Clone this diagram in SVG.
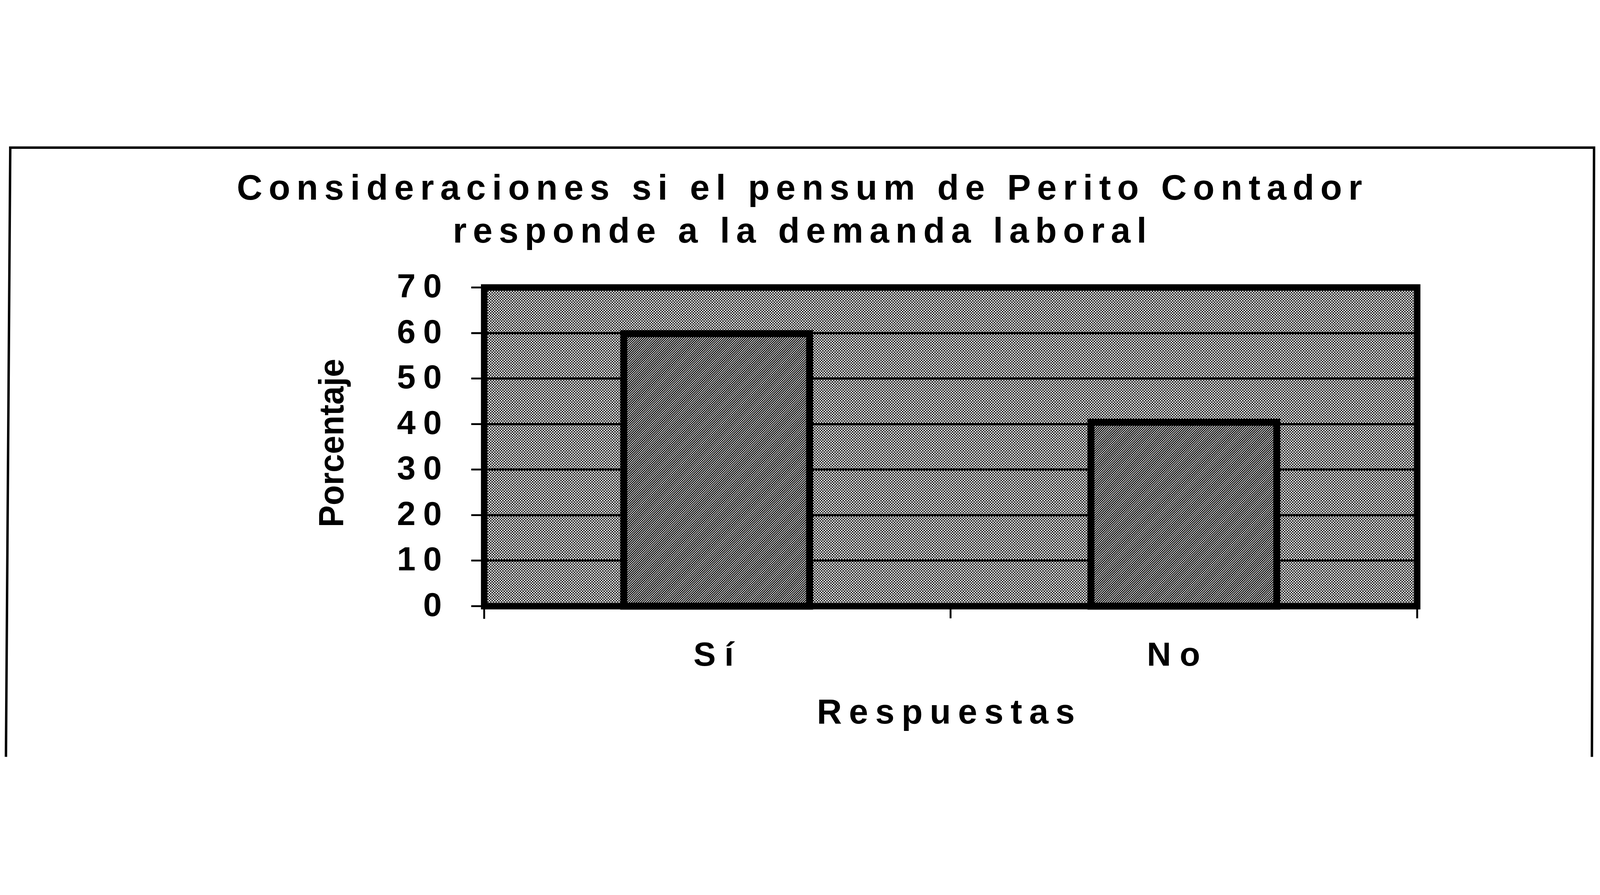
<svg xmlns="http://www.w3.org/2000/svg" width="5925" height="2291" viewBox="0 0 5925 2291" style="width:100vw;height:100vh">
<style>
text{font-family:"Liberation Sans",Arial,sans-serif;font-weight:bold;fill:#000}
.title{font-size:131px}
.tick{font-size:124px;letter-spacing:28px}
.cat{font-size:124px;letter-spacing:32px}
.axt{font-size:128px}
.grid{stroke:#000;stroke-width:8;fill:none}
.tk{stroke:#000;stroke-width:7;fill:none}
.bar{fill:url(#barPat);stroke:#000;stroke-width:26}
</style>
<defs>
<pattern id="bgPat" patternUnits="userSpaceOnUse" width="10" height="10">
<rect width="10" height="10" fill="#fff"/>
<circle cx="2.5" cy="2.5" r="2.8" fill="#000"/>
<circle cx="7.5" cy="7.5" r="2.8" fill="#000"/>
</pattern>
<pattern id="barPat" patternUnits="userSpaceOnUse" width="6" height="6" patternTransform="rotate(45)">
<rect width="6" height="6" fill="#fff"/>
<rect width="3.6" height="6" fill="#000"/>
</pattern>
</defs>
<rect width="5925" height="2291" fill="#fff"/>
<g id="frame">
<path d="M22 2291 L38 35 L5903 35 L5895 2291" fill="none" stroke="#000" stroke-width="9"/>
</g>
<g id="title">
<text class="title" x="877" y="228" textLength="4167" lengthAdjust="spacing">Consideraciones si el pensum de Perito Contador</text>
<text class="title" x="1677" y="387" textLength="2569" lengthAdjust="spacing">responde a la demanda laboral</text>
</g>
<g id="plot-area">
<rect x="1793" y="553" width="3455" height="1180" fill="url(#bgPat)"/>
</g>
<g id="gridlines">
<line class="grid" x1="1793" y1="722" x2="5248" y2="722"/>
<line class="grid" x1="1793" y1="890" x2="5248" y2="890"/>
<line class="grid" x1="1793" y1="1059" x2="5248" y2="1059"/>
<line class="grid" x1="1793" y1="1227" x2="5248" y2="1227"/>
<line class="grid" x1="1793" y1="1396" x2="5248" y2="1396"/>
<line class="grid" x1="1793" y1="1564" x2="5248" y2="1564"/>
</g>
<g id="bar-si">
<rect class="bar" x="2310" y="724" width="688" height="1009"/>
</g>
<g id="bar-no">
<rect class="bar" x="4040" y="1052" width="688" height="681"/>
</g>
<g id="plot-frame">
<rect x="1793" y="553" width="3455" height="1180" fill="none" stroke="#000" stroke-width="24"/>
</g>
<g id="y-axis">
<line class="tk" x1="1745" y1="553" x2="1793" y2="553"/>
<line class="tk" x1="1745" y1="722" x2="1793" y2="722"/>
<line class="tk" x1="1745" y1="890" x2="1793" y2="890"/>
<line class="tk" x1="1745" y1="1059" x2="1793" y2="1059"/>
<line class="tk" x1="1745" y1="1227" x2="1793" y2="1227"/>
<line class="tk" x1="1745" y1="1396" x2="1793" y2="1396"/>
<line class="tk" x1="1745" y1="1564" x2="1793" y2="1564"/>
<line class="tk" x1="1745" y1="1733" x2="1793" y2="1733"/>
<text class="tick" x="1470" y="590">70</text>
<text class="tick" x="1470" y="759">60</text>
<text class="tick" x="1470" y="927">50</text>
<text class="tick" x="1470" y="1096">40</text>
<text class="tick" x="1470" y="1264">30</text>
<text class="tick" x="1470" y="1433">20</text>
<text class="tick" x="1470" y="1601">10</text>
<text class="tick" x="1567" y="1770">0</text>
<text class="axt" transform="translate(1272,1441) rotate(-90)" textLength="624" lengthAdjust="spacingAndGlyphs">Porcentaje</text>
</g>
<g id="x-axis">
<line class="tk" x1="1793" y1="1733" x2="1793" y2="1780"/>
<line class="tk" x1="3520" y1="1733" x2="3520" y2="1778"/>
<line class="tk" x1="5248" y1="1733" x2="5248" y2="1778"/>
<text class="cat" x="2568" y="1953">Sí</text>
<text class="cat" x="4247" y="1953">No</text>
<text class="axt" x="3025" y="2168" textLength="955" lengthAdjust="spacing">Respuestas</text>
</g>
</svg>
